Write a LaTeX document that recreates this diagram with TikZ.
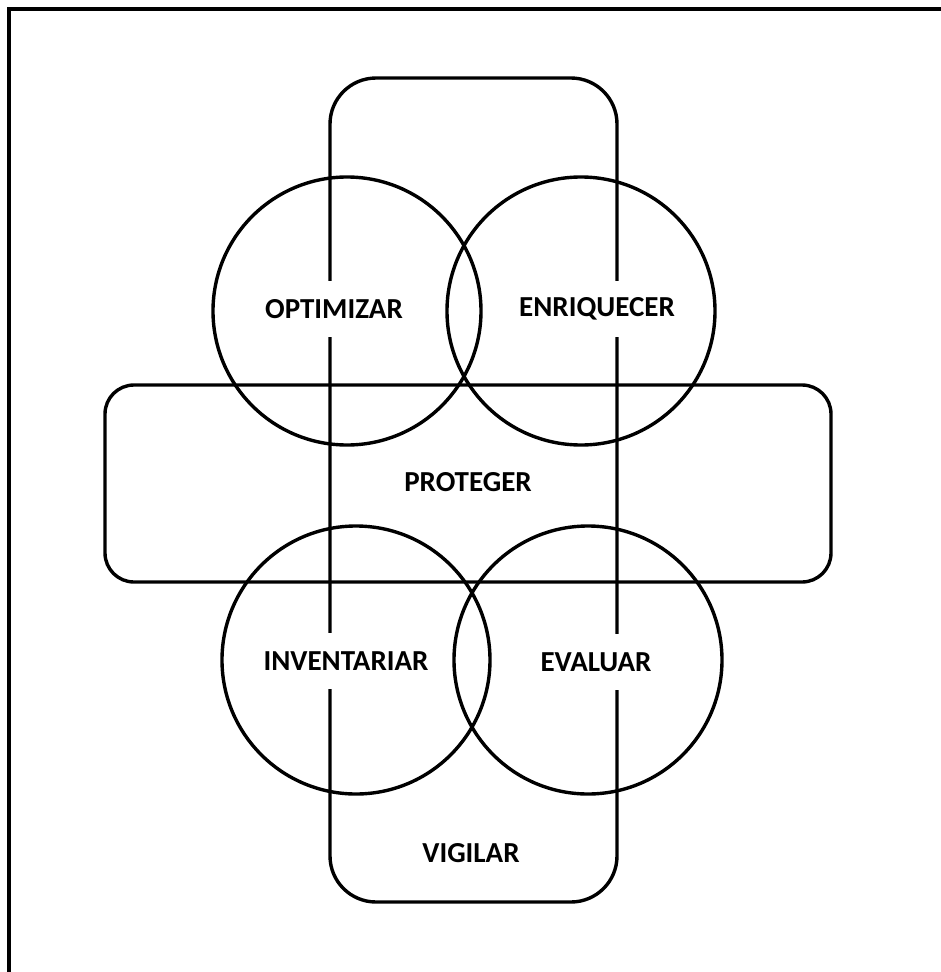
\documentclass[tikz,border=0pt]{standalone}
\usepackage{fontspec}
\setmainfont{Carlito}
\begin{document}
\begin{tikzpicture}[x=1pt,y=-1pt,line width=3.4pt,
    etapa/.style={fill=white,inner xsep=3pt,minimum height=56pt,
      font=\bfseries\fontsize{29}{34}\selectfont}]
        \useasboundingbox (0,0) rectangle (941,972);
        \draw[line width=4pt] (9,972) -- (9,9) -- (941,9);
        % the two bands
        \draw[rounded corners=46pt] (330,78) rectangle (617,902);
        \draw[rounded corners=29pt] (105,385) rectangle (831,582);
        % the four circles
        \draw (347,311) circle [radius=134pt];
        \draw (581,311) circle [radius=134pt];
        \draw (356,660) circle [radius=134pt];
        \draw (588,660) circle [radius=134pt];
        \node[etapa] (optimizar) at (334,309) {OPTIMIZAR};
        \node[etapa] (enriquecer) at (597,309) {ENRIQUECER};
        \node (proteger) at (468,482) [etapa] {PROTEGER};
        \node[etapa] (inventariar) at (346,661) {INVENTARIAR};
        \node[etapa] (evaluar) at (596,662) {EVALUAR};
        \node[etapa] (vigilar) at (471,853) {VIGILAR};
      \end{tikzpicture}
\end{document}
